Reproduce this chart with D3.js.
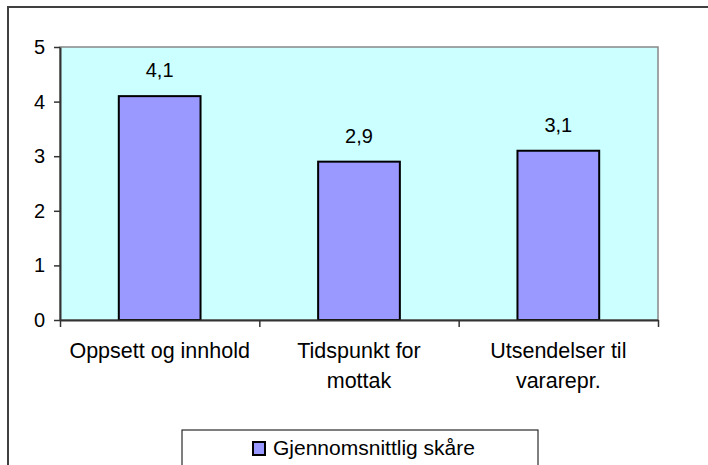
<!DOCTYPE html>
<html>
<head>
<meta charset="utf-8">
<script src="https://cdn.jsdelivr.net/npm/d3@7"></script>
<style>
  body { margin: 0; background: #fff; }
  svg { display: block; font-family: "Liberation Sans", Arial, sans-serif; }
</style>
</head>
<body>
<svg id="chart" width="708" height="465"></svg>
<script>
const categories = [["Oppsett og innhold"], ["Tidspunkt for", "mottak"], ["Utsendelser til", "vararepr."]];
const values = [4.1, 2.9, 3.1];
const yTicks = [0, 1, 2, 3, 4, 5];
const seriesName = "Gjennomsnittlig skåre";

const svg = d3.select("#chart");

// outer chart frame (runs off the right and bottom edge)
svg.append("rect")
  .attr("x", 8).attr("y", 7)
  .attr("width", 720).attr("height", 480)
  .attr("fill", "#fff")
  .attr("stroke", "#404040")
  .attr("stroke-width", 2);

const plot = { left: 60, top: 47, right: 658, bottom: 320 };

const x = d3.scaleBand()
  .domain(d3.range(categories.length))
  .range([plot.left, plot.right])
  .paddingInner(0.59)
  .paddingOuter(0.295);

const y = d3.scaleLinear()
  .domain([0, 5])
  .range([plot.bottom, plot.top]);

// plot area background
svg.append("rect")
  .attr("x", plot.left).attr("y", plot.top)
  .attr("width", plot.right - plot.left)
  .attr("height", plot.bottom - plot.top)
  .attr("fill", "#ccffff")
  .attr("stroke", "#888")
  .attr("stroke-width", 1.5);

// bars
svg.selectAll("rect.bar")
  .data(values)
  .enter()
  .append("rect")
  .attr("class", "bar")
  .attr("x", (d, i) => x(i))
  .attr("y", d => y(d))
  .attr("width", x.bandwidth())
  .attr("height", d => y(0) - y(d))
  .attr("fill", "#9999ff")
  .attr("stroke", "#000")
  .attr("stroke-width", 2);

// value labels
svg.selectAll("text.value")
  .data(values)
  .enter()
  .append("text")
  .attr("class", "value")
  .attr("x", (d, i) => x(i) + x.bandwidth() / 2)
  .attr("y", d => y(d) - 19)
  .attr("text-anchor", "middle")
  .attr("font-size", 20)
  .text(d => d3.format(".1f")(d).replace(".", ","));

// y axis
const yAxis = svg.append("g")
  .attr("transform", `translate(${plot.left},0)`)
  .call(d3.axisLeft(y).tickValues(yTicks).tickFormat(d3.format("d"))
    .tickSize(6).tickPadding(9).tickSizeOuter(0));
yAxis.select(".domain").attr("stroke", "#333").attr("stroke-width", 2);
yAxis.selectAll(".tick line").attr("stroke", "#333").attr("stroke-width", 1.5);
yAxis.selectAll(".tick text")
  .attr("font-size", 20)
  .attr("font-family", "Liberation Sans, Arial, sans-serif")
  .attr("fill", "#000");

// x axis with tick marks between categories
const xEdges = d3.scaleLinear().domain([0, categories.length]).range([plot.left, plot.right]);
const xAxis = svg.append("g")
  .attr("transform", `translate(0,${plot.bottom})`)
  .call(d3.axisBottom(xEdges).tickValues(d3.range(categories.length + 1)).tickSize(7).tickSizeOuter(0).tickFormat(""));
xAxis.select(".domain").attr("stroke", "#333").attr("stroke-width", 2);
xAxis.selectAll(".tick line").attr("stroke", "#333").attr("stroke-width", 1.5);

// category labels
const catLabels = svg.selectAll("text.cat")
  .data(categories)
  .enter()
  .append("text")
  .attr("class", "cat")
  .attr("x", (d, i) => x(i) + x.bandwidth() / 2)
  .attr("y", 358)
  .attr("text-anchor", "middle")
  .attr("font-size", 21.5);
catLabels.selectAll("tspan")
  .data(d => d)
  .enter()
  .append("tspan")
  .attr("x", function() { return d3.select(this.parentNode).attr("x"); })
  .attr("dy", (d, i) => i === 0 ? 0 : 30)
  .text(d => d);

// legend
svg.append("rect")
  .attr("x", 182).attr("y", 430)
  .attr("width", 356).attr("height", 45)
  .attr("fill", "#fff")
  .attr("stroke", "#000")
  .attr("stroke-width", 1);
svg.append("rect")
  .attr("x", 253).attr("y", 442)
  .attr("width", 12).attr("height", 13)
  .attr("fill", "#9999ff")
  .attr("stroke", "#000")
  .attr("stroke-width", 2);
svg.append("text")
  .attr("x", 273).attr("y", 455)
  .attr("font-size", 21)
  .text(seriesName);
</script>
</body>
</html>
